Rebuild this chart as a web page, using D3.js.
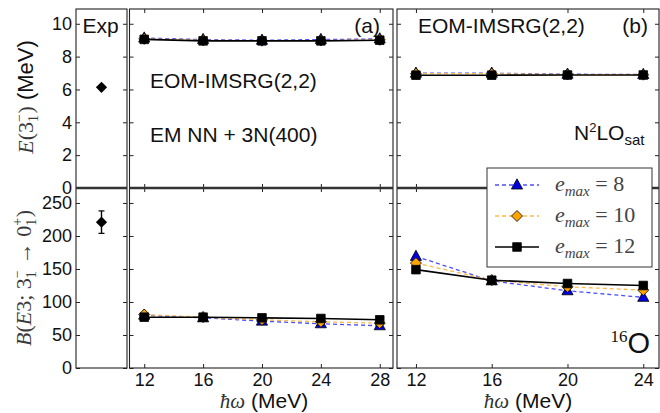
<!DOCTYPE html>
<html><head><meta charset="utf-8">
<script src="https://cdn.jsdelivr.net/npm/d3@7"></script>
<style>body{margin:0;background:#fff} svg{display:block}</style>
</head><body>
<svg id="c" width="660" height="413"></svg>
<script>
// ---------- data ----------
const hwA = [12, 16, 20, 24, 28];
const hwB = [12, 16, 20, 24];
const emaxLabels = ["8", "10", "12"];
const yTicksE = [0, 2, 4, 6, 8, 10];
const yTicksB = [0, 50, 100, 150, 200, 250];

// panel (a): EM NN + 3N(400)
const energyA_e8  = [9.13, 9.04, 9.00, 9.04, 9.08];
const energyA_e10 = [9.08, 8.99, 8.97, 8.98, 9.02];
const energyA_e12 = [9.05, 8.96, 8.96, 8.96, 9.00];
const be3A_e8  = [80, 76, 71, 67, 64];
const be3A_e10 = [81, 77, 73, 70, 68];
const be3A_e12 = [77, 77, 76, 75, 73];

// panel (b): N2LO_sat
const energyB_e8  = [6.99, 6.99, 6.93, 6.91];
const energyB_e10 = [6.96, 6.96, 6.91, 6.90];
const energyB_e12 = [6.87, 6.87, 6.88, 6.88];
const be3B_e8  = [169, 132, 117, 107];
const be3B_e10 = [159, 133, 123, 118];
const be3B_e12 = [149, 133, 128, 125];

// experiment
const expEnergy = 6.13;
const expBE3 = 221;
const expBE3Err = 17;

// ---------- setup ----------
const svg = d3.select("#c");
const SANS = "'Liberation Sans', Arial, Helvetica, sans-serif";
const SERIF = "'Liberation Serif', 'Times New Roman', serif";
const FRAME = "#222";

const yE = d3.scaleLinear().domain([0, 10.9]).range([188, 9]);
const yB = d3.scaleLinear().domain([0, 272.7]).range([368, 188]);
const xA = d3.scaleLinear().domain([11, 28.9]).range([129.5, 393]);
const xB = d3.scaleLinear().domain([11, 24.83]).range([397, 659]);
const xExp = d3.scalePoint().domain(["Exp"]).range([76, 127]).padding(0.5);

const panelsX = [[76, 127], [129.5, 393], [397, 659]];

function styleAxis(g, labels) {
  g.select(".domain").remove();
  g.selectAll(".tick line").attr("stroke", FRAME).attr("stroke-width", 1);
  g.selectAll(".tick text").attr("font-family", SANS).attr("font-size", 18).attr("fill", "#111");
  if (!labels) g.selectAll(".tick text").remove();
}

// y ticks on every panel (both sides)
panelsX.forEach(([x0, x1], i) => {
  [[yE, yTicksE], [yB, yTicksB]].forEach(([ys, tv]) => {
    const gl = svg.append("g").attr("transform", `translate(${x0},0)`)
      .call(d3.axisLeft(ys).tickValues(tv).tickSizeInner(-4).tickSizeOuter(0).tickPadding(4));
    styleAxis(gl, i === 0);
    const gr = svg.append("g").attr("transform", `translate(${x1},0)`)
      .call(d3.axisRight(ys).tickValues(tv).tickSizeInner(-4).tickSizeOuter(0));
    styleAxis(gr, false);
  });
});

// x ticks for panels a and b
[[xA, hwA], [xB, hwB]].forEach(([xs, tv]) => {
  const gb = svg.append("g").attr("transform", "translate(0,368)")
    .call(d3.axisBottom(xs).tickValues(tv).tickSizeInner(-4).tickSizeOuter(0).tickPadding(5));
  styleAxis(gb, true);
  [188, 9].forEach(y => {
    const gt = svg.append("g").attr("transform", `translate(0,${y})`)
      .call(d3.axisTop(xs).tickValues(tv).tickSizeInner(-4).tickSizeOuter(0));
    styleAxis(gt, false);
  });
  const gtb = svg.append("g").attr("transform", "translate(0,188)")
    .call(d3.axisTop(xs).tickValues(tv).tickSizeInner(4).tickSizeOuter(0));
  styleAxis(gtb, false);
});

// frames
panelsX.forEach(([x0, x1]) => {
  svg.append("rect").attr("x", x0).attr("y", 9).attr("width", x1 - x0).attr("height", 359)
    .attr("fill", "none").attr("stroke", FRAME).attr("stroke-width", 1.1);
  svg.append("line").attr("x1", x0).attr("x2", x1).attr("y1", 188).attr("y2", 188)
    .attr("stroke", "#333").attr("stroke-width", 2.6);
});

// ---------- markers ----------
const tri = s => `M0,${-s * 0.62}L${s * 0.56},${s * 0.4}L${-s * 0.56},${s * 0.4}Z`;
const dia = r => `M0,${-r}L${r},0L0,${r}L${-r},0Z`;
const sq = h => `M${-h},${-h}H${h}V${h}H${-h}Z`;

const styles = [
  { line: "#4d4dff", dash: "4,3", lw: 1.3, fill: "#0000dd", path: tri(10) },
  { line: "#ffb84d", dash: "4,3", lw: 1.3, fill: "#ffa500", path: dia(5.5) },
  { line: "#000", dash: null, lw: 1.6, fill: "#000", path: sq(4.3) }
];

function drawSeries(xs, ys, hw, vals, st) {
  const data = hw.map((h, i) => ({ h, v: vals[i] }));
  const ln = d3.line().x(d => xs(d.h)).y(d => ys(d.v));
  svg.append("path").attr("d", ln(data)).attr("fill", "none")
    .attr("stroke", st.line).attr("stroke-width", st.lw)
    .attr("stroke-dasharray", st.dash);
  svg.append("g").selectAll("path").data(data).join("path")
    .attr("transform", d => `translate(${xs(d.h)},${ys(d.v)})`)
    .attr("d", st.path).attr("fill", st.fill).attr("stroke", "#000").attr("stroke-width", 0.8);
}

const setsA = [[energyA_e8, be3A_e8], [energyA_e10, be3A_e10], [energyA_e12, be3A_e12]];
const setsB = [[energyB_e8, be3B_e8], [energyB_e10, be3B_e10], [energyB_e12, be3B_e12]];
setsA.forEach(([e, b], i) => {
  drawSeries(xA, yE, hwA, e, styles[i]);
  drawSeries(xA, yB, hwA, b, styles[i]);
});
setsB.forEach(([e, b], i) => {
  drawSeries(xB, yE, hwB, e, styles[i]);
  drawSeries(xB, yB, hwB, b, styles[i]);
});

// experiment
const ex = xExp("Exp");
svg.append("path").attr("transform", `translate(${ex},${yE(expEnergy)})`).attr("d", dia(5.6)).attr("fill", "#000");
svg.append("line").attr("x1", ex).attr("x2", ex).attr("y1", yB(expBE3 - expBE3Err)).attr("y2", yB(expBE3 + expBE3Err))
  .attr("stroke", "#000").attr("stroke-width", 1.4);
[expBE3 - expBE3Err, expBE3 + expBE3Err].forEach(v => {
  svg.append("line").attr("x1", ex - 3).attr("x2", ex + 3).attr("y1", yB(v)).attr("y2", yB(v))
    .attr("stroke", "#000").attr("stroke-width", 1.2);
});
svg.append("path").attr("transform", `translate(${ex},${yB(expBE3)})`).attr("d", dia(5.6)).attr("fill", "#000");

// ---------- texts ----------
function txt(x, y, s, size, anchor) {
  return svg.append("text").attr("x", x).attr("y", y).attr("font-family", SANS)
    .attr("font-size", size).attr("fill", "#111").attr("text-anchor", anchor || "start").text(s);
}
txt(82.5, 33, "Exp", 21);
txt(380, 33, "(a)", 21, "end");
txt(648, 33, "(b)", 21, "end");
txt(150, 88, "EOM-IMSRG(2,2)", 21);
txt(150, 142, "EM NN + 3N(400)", 21);
txt(418, 33, "EOM-IMSRG(2,2)", 21);

const n2 = svg.append("text").attr("x", 574).attr("y", 140).attr("font-family", SANS).attr("font-size", 21).attr("fill", "#111");
n2.append("tspan").text("N");
n2.append("tspan").attr("font-size", 13).attr("dy", -8).text("2");
n2.append("tspan").attr("dy", 8).text("LO");
n2.append("tspan").attr("font-size", 15).attr("dy", 5).text("sat");

const o16 = svg.append("text").attr("x", 650).attr("y", 353).attr("text-anchor", "end").attr("fill", "#111");
o16.append("tspan").attr("font-family", SERIF).attr("font-size", 17).attr("dy", -11).text("16");
o16.append("tspan").attr("font-family", SANS).attr("font-size", 29).attr("dy", 11).text("O");

// x labels
[264, 528].forEach(cx => {
  const t = svg.append("text").attr("x", cx).attr("y", 408).attr("text-anchor", "middle").attr("font-size", 21).attr("fill", "#111");
  t.append("tspan").attr("font-family", SERIF).attr("font-style", "italic").attr("fill", "#333").text("ħω");
  t.append("tspan").attr("font-family", SANS).text(" (MeV)");
});

// y labels
const yl1 = svg.append("text").attr("transform", "translate(32.5,97) rotate(-90)")
  .attr("text-anchor", "middle").attr("font-size", 22).attr("fill", "#3a3a3a").attr("font-family", SERIF);
yl1.append("tspan").attr("font-style", "italic").text("E");
yl1.append("tspan").text("(3");
yl1.append("tspan").attr("font-size", 14).attr("dy", -9).text("−");
yl1.append("tspan").attr("font-size", 14).attr("dx", -8).attr("dy", 14).text("1");
yl1.append("tspan").attr("dy", -5).attr("dx", 1.5).text(")");
yl1.append("tspan").attr("font-family", SANS).attr("fill", "#111").text(" (MeV)");

const yl2 = svg.append("text").attr("transform", "translate(30.5,278) rotate(-90)")
  .attr("text-anchor", "middle").attr("font-size", 22).attr("fill", "#3a3a3a").attr("font-family", SERIF);
yl2.append("tspan").attr("font-style", "italic").text("B");
yl2.append("tspan").text("(");
yl2.append("tspan").attr("font-style", "italic").text("E");
yl2.append("tspan").text("3; 3");
yl2.append("tspan").attr("font-size", 14).attr("dy", -9).text("−");
yl2.append("tspan").attr("font-size", 14).attr("dx", -8).attr("dy", 14).text("1");
yl2.append("tspan").attr("dy", -5).attr("dx", 1.5).text(" → 0");
yl2.append("tspan").attr("font-size", 14).attr("dy", -9).text("+");
yl2.append("tspan").attr("font-size", 14).attr("dx", -8).attr("dy", 14).text("1");
yl2.append("tspan").attr("dy", -5).attr("dx", 1.5).text(")");

// ---------- legend ----------
const lg = svg.append("g");
lg.append("rect").attr("x", 487).attr("y", 168).attr("width", 165).attr("height", 99)
  .attr("fill", "#fff").attr("stroke", "#333").attr("stroke-width", 1);
const legY = [185, 216, 247];
emaxLabels.forEach((lab, i) => {
  const st = styles[i];
  const y = legY[i];
  lg.append("line").attr("x1", 495).attr("x2", 539).attr("y1", y).attr("y2", y)
    .attr("stroke", st.line).attr("stroke-width", st.lw).attr("stroke-dasharray", st.dash);
  lg.append("path").attr("transform", `translate(517,${y})`).attr("d", st.path)
    .attr("fill", st.fill).attr("stroke", "#000").attr("stroke-width", 0.8);
  const t = lg.append("text").attr("x", 555).attr("y", y + 6).attr("font-family", SERIF)
    .attr("font-size", 22).attr("fill", "#444");
  t.append("tspan").attr("font-style", "italic").text("e");
  t.append("tspan").attr("font-style", "italic").attr("font-size", 15).attr("dy", 5).text("max");
  t.append("tspan").attr("dy", -5).text(" = " + lab);
});
</script>
</body></html>
